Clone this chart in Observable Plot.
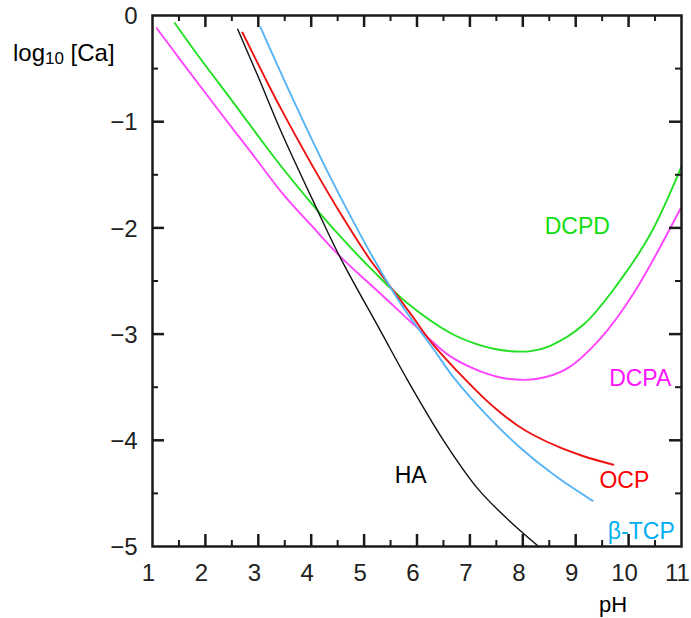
<!DOCTYPE html>
<html><head><meta charset="utf-8">
<script src="https://cdn.jsdelivr.net/npm/d3@7"></script>
<script src="https://cdn.jsdelivr.net/npm/@observablehq/plot@0.6"></script>
<style>
body{margin:0;background:#fff;}
#wrap{position:relative;width:691px;height:618px;overflow:hidden;}
.lab{position:absolute;font-family:"Liberation Sans",Arial,sans-serif;color:#000;white-space:nowrap;line-height:1;}
</style></head><body>
<div id="wrap">
  <div class="lab" id="ylab" style="left:13px;top:41px;font-size:24px;">log<span style="font-size:17px;position:relative;top:3px;">10</span> [Ca]</div>
  <div class="lab" id="xlab" style="left:599px;top:594px;font-size:22px;">pH</div>
</div>
<script>
// Series names and colours
const seriesNames = ["DCPD", "DCPA", "OCP", "β-TCP", "HA"];
const lineColors  = ["#22e022", "#ff44ff", "#ee1111", "#55b4f6", "#111111"];
const textColors  = ["#11dd11", "#ff11ff", "#ff0000", "#00b0f0", "#000000"];

// DCPD (green)
const pH_DCPD  = [1.42, 1.91, 2.53, 3.17, 3.48, 4.04, 4.55, 5.18, 5.82, 6.63, 7.10, 7.58, 8.15, 8.52, 9.15, 9.79, 10.41, 11.0];
const log_DCPD = [-0.07, -0.41, -0.82, -1.25, -1.45, -1.79, -2.08, -2.41, -2.71, -2.99, -3.09, -3.15, -3.16, -3.11, -2.91, -2.53, -2.06, -1.42];

// DCPA (magenta)
const pH_DCPA  = [1.08, 1.59, 2.23, 2.85, 3.48, 3.99, 4.55, 5.31, 6.07, 6.63, 7.20, 7.71, 8.28, 8.85, 9.47, 10.09, 10.98];
const log_DCPA = [-0.12, -0.46, -0.88, -1.28, -1.69, -1.97, -2.27, -2.62, -2.97, -3.21, -3.35, -3.42, -3.42, -3.32, -3.04, -2.62, -1.82];

// OCP (red)
const pH_OCP  = [2.70, 3.17, 3.42, 4.04, 4.61, 5.10, 5.31, 5.88, 6.26, 6.82, 7.26, 7.58, 7.90, 8.20, 8.71, 9.15, 9.71];
const log_OCP = [-0.16, -0.63, -0.87, -1.43, -1.91, -2.29, -2.43, -2.81, -3.07, -3.38, -3.60, -3.74, -3.86, -3.95, -4.07, -4.15, -4.23];

// β-TCP (light blue)
const pH_TCP  = [3.04, 3.50, 4.18, 4.69, 5.18, 5.74, 6.31, 6.68, 7.33, 7.93, 8.60, 9.32];
const log_TCP = [-0.11, -0.62, -1.34, -1.84, -2.29, -2.75, -3.14, -3.40, -3.77, -4.06, -4.33, -4.57];

// HA (black)
const pH_HA  = [2.61, 3.00, 3.42, 4.04, 4.54, 5.31, 5.84, 6.50, 7.14, 7.77, 8.30];
const log_HA = [-0.13, -0.58, -1.08, -1.75, -2.27, -2.97, -3.45, -4.00, -4.45, -4.77, -5.00];

// Axis ticks
const xTickLabels = [1, 2, 3, 4, 5, 6, 7, 8, 9, 10, 11];
const xMajor = [2, 3, 4, 5, 6, 7, 8, 9, 10];
const xMinor = [1.5, 2.5, 3.5, 4.5, 5.5, 6.5, 7.5, 8.5, 9.5, 10.5];
const yTickLabels = [0, -1, -2, -3, -4, -5];
const yMajor = [-1, -2, -3, -4];
const yMinor = [-0.5, -1.5, -2.5, -3.5, -4.5];

// Curve label anchors (data coordinates)
const labelPH  = [9.03, 10.22, 9.92, 10.24, 5.88];
const labelLog = [-1.99, -3.42, -4.38, -4.86, -4.33];

const seriesPH  = [pH_DCPD, pH_DCPA, pH_OCP, pH_TCP, pH_HA];
const seriesLog = [log_DCPD, log_DCPA, log_OCP, log_TCP, log_HA];
const rows = seriesNames.flatMap((s, i) => seriesPH[i].map((p, j) => ({series: s, pH: p, logCa: seriesLog[i][j]})));
const labels = seriesNames.map((s, i) => ({name: s, pH: labelPH[i], logCa: labelLog[i], color: textColors[i]}));

const W = 691, H = 618, mL = 152, mR = 10, mT = 15, mB = 72;
const plotW = W - mL - mR, plotH = H - mT - mB;
const tickFont = '"Liberation Sans", Arial, sans-serif';
const axisColor = "#1a1a1a";
const fmt = d => d === 0 ? "0" : (d < 0 ? "\u2212" : "") + Math.abs(d);
const majorLen = 12, minorLen = 6;

const chart = Plot.plot({
  width: W, height: H,
  marginLeft: mL, marginRight: mR, marginTop: mT, marginBottom: mB,
  x: {domain: [1, 11]},
  y: {domain: [-5, 0]},
  style: {background: "#fff", color: "#222"},
  marks: [
    ...seriesNames.map((s, i) => Plot.line(rows.filter(d => d.series === s), {
      x: "pH", y: "logCa", stroke: lineColors[i], strokeWidth: s === "HA" ? 1.4 : 1.9, curve: "catmull-rom"
    })),
    Plot.frame({stroke: axisColor, strokeWidth: 2.5}),
    // inward ticks: bottom, top, left, right
    Plot.tickX(xMajor, {x: d => d, insetTop: plotH - majorLen, stroke: axisColor, strokeWidth: 2.5}),
    Plot.tickX(xMinor, {x: d => d, insetTop: plotH - minorLen, stroke: axisColor, strokeWidth: 2}),
    Plot.tickX(xMajor, {x: d => d, insetBottom: plotH - majorLen, stroke: axisColor, strokeWidth: 2.5}),
    Plot.tickX(xMinor, {x: d => d, insetBottom: plotH - minorLen, stroke: axisColor, strokeWidth: 2}),
    Plot.tickY(yMajor, {y: d => d, insetRight: plotW - majorLen, stroke: axisColor, strokeWidth: 2.5}),
    Plot.tickY(yMinor, {y: d => d, insetRight: plotW - minorLen, stroke: axisColor, strokeWidth: 2}),
    Plot.tickY(yMajor, {y: d => d, insetLeft: plotW - majorLen, stroke: axisColor, strokeWidth: 2.5}),
    Plot.tickY(yMinor, {y: d => d, insetLeft: plotW - minorLen, stroke: axisColor, strokeWidth: 2}),
    Plot.axisX({ticks: xTickLabels, tickSize: 0, tickPadding: 17, dx: -4, label: null, fontSize: 24, fontFamily: tickFont, fill: "#222", tickFormat: fmt}),
    Plot.axisY({ticks: yTickLabels, tickSize: 0, tickPadding: 15, dy: 1, label: null, fontSize: 24, fontFamily: tickFont, fill: "#222", tickFormat: fmt}),
    Plot.text(labels, {x: "pH", y: "logCa", text: "name", fill: "color", fontSize: 23, fontFamily: '"Liberation Sans", Arial, sans-serif', textAnchor: "middle", lineAnchor: "middle"})
  ]
});
chart.style.position = "absolute";
chart.style.left = "0px";
chart.style.top = "0px";
document.getElementById("wrap").prepend(chart);
</script>
</body></html>
